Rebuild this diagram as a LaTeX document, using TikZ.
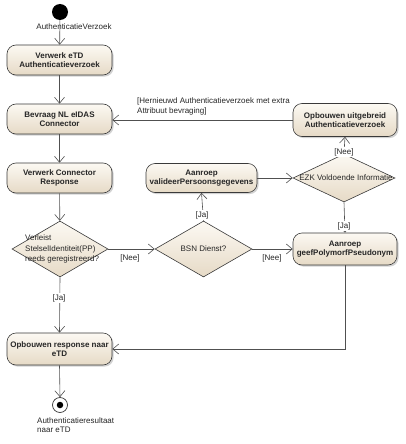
\documentclass[tikz,border=0pt]{standalone}
\usepackage{fontspec}
\setmainfont{Liberation Sans}
\usetikzlibrary{arrows.meta,shapes.geometric,shadows}
\definecolor{borderc}{HTML}{3A3A3A}
\definecolor{edgec}{HTML}{505050}
\definecolor{topc}{HTML}{FCF9F3}
\definecolor{botc}{HTML}{E6DAC6}
\begin{document}
\begin{tikzpicture}[x=1pt,y=-1pt,
  action/.style={draw=borderc, line width=0.6pt, rounded corners=9pt,
    top color=topc, bottom color=botc,
    drop shadow={shadow xshift=1.6pt, shadow yshift=-1.6pt, fill=black!35},
    font=\fontsize{8}{9.5}\selectfont\bfseries, text=black!85, align=center,
    minimum width=105pt, minimum height=30pt, inner sep=1pt},
  decision/.style={diamond, draw=borderc, line width=0.6pt,
    top color=topc, bottom color=botc, inner sep=0pt},
  flow/.style={draw=edgec, line width=0.6pt, -{Straight Barb[length=6pt,width=10pt,line width=0.6pt]}},
  lbl/.style={font=\fontsize{8}{9.5}\selectfont, inner sep=1pt, text=black!85},
  guard/.style={lbl, fill=white}
]
\useasboundingbox (0,0) rectangle (406,444);
\fill[white] (0,0) rectangle (406,444);

% nodes
\node[circle, fill=black, minimum size=16pt, inner sep=0pt] (start) at (60,12) {};
\node[action] (n1) at (59.5,60) {Verwerk eTD\\Authenticatieverzoek};
\node[action] (n2) at (59.5,119) {Bevraag NL eIDAS\\Connector};
\node[action] (n3) at (59.5,178) {Verwerk Connector\\Response};
\node[decision, minimum width=96pt, minimum height=56pt] (d1) at (60,249) {};
\node[decision, minimum width=97pt, minimum height=56pt] (bsn) at (203.5,249) {};
\node[action, minimum width=111pt, minimum height=29pt] (val) at (201.5,178) {Aanroep\\valideerPersoonsgegevens};
\node[decision, minimum width=102pt, minimum height=48pt] (ezk) at (344,178) {};
\node[action, minimum width=104pt, minimum height=33pt] (uitg) at (345,120) {Opbouwen uitgebreid\\Authenticatieverzoek};
\node[action, minimum width=104pt, minimum height=32pt] (geef) at (345,249) {Aanroep\\geefPolymorfPseudonym};
\node[action, minimum height=32pt] (resp) at (59.5,349) {Opbouwen response naar\\eTD};
\node[circle, draw=borderc, line width=0.7pt, fill=white, minimum size=15pt, inner sep=0pt] (fin) at (60,405) {};
\node[circle, fill=black, minimum size=6.5pt, inner sep=0pt] (findot) at (fin.center) {};

% diamond texts
\node[lbl, anchor=west, align=left, font=\fontsize{8}{10.5}\selectfont] (d1t) at (24,249) {Verleist\\StelselIdentiteit(PP)\\reeds geregistreerd?};
\node[lbl] (bsnt) at (bsn.center) {BSN Dienst?};
\node[lbl] (ezkt) at (346,178) {EZK Voldoende Informatie};

% connectors
\draw[flow] (start) -- (n1);
\node[lbl] (startlbl) at (74,27) {AuthenticatieVerzoek};
\draw[flow] (n1) -- (n2);
\draw[flow] (n2) -- (n3);
\draw[flow] (n3) -- (d1);
\draw[flow] (d1.east) -- (bsn.west);
\node[lbl] (g1) at (130,258) {[Nee]};
\draw[flow] (bsn.east) -- (geef.west);
\node[lbl] (g2) at (272,258) {[Nee]};
\draw[flow] (bsn.north) -- (val.south);
\node[guard] (g3) at (202,215) {[Ja]};
\draw[flow] (val.east) -- (ezk.west);
\draw[flow] (ezk.north) -- (uitg.south);
\node[guard] (g4) at (344,152) {[Nee]};
\draw[flow] (ezk.south) -- (geef.north);
\node[guard] (g5) at (344,226) {[Ja]};
\draw[flow] (uitg.west) -- (uitg.west -| n2.east);
\node[lbl, anchor=north west, align=left, font=\fontsize{8}{9.3}\selectfont] (g6) at (136,97) {[Hernieuwd Authenticatieverzoek met extra\\Attribuut bevraging]};
\draw[flow] (d1.south) -- (resp.north);
\node[guard] (g7) at (59,298) {[Ja]};
\draw[flow] (geef.south) |- (resp.east);
\draw[flow] (resp.south) -- (fin.north);
\node[lbl, anchor=north west, align=left] (finlbl) at (36,416) {Authenticatieresultaat\\naar eTD};
\end{tikzpicture}
\end{document}
